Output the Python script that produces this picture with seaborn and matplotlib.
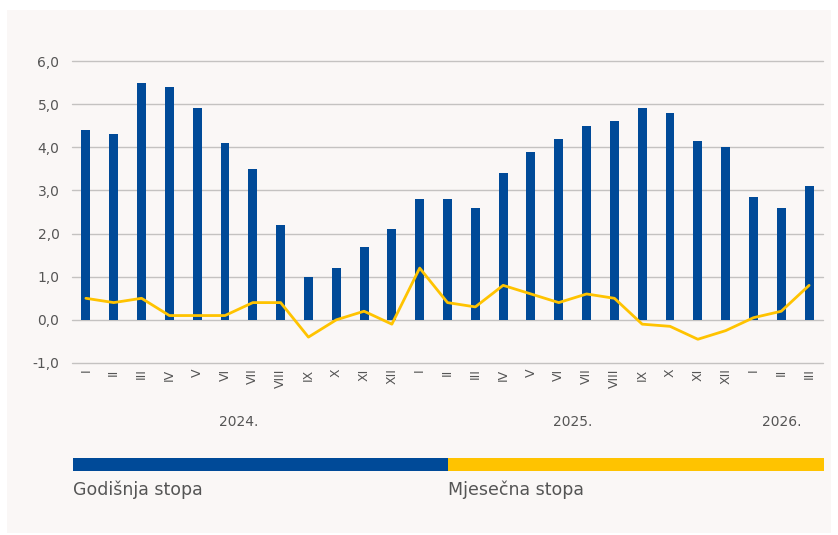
import numpy as np
import pandas as pd
import matplotlib
matplotlib.use("Agg")
import matplotlib.pyplot as plt
import matplotlib.transforms as mtransforms
from matplotlib.patches import Rectangle
import seaborn as sns

# ---- data ----
months = ["I", "II", "III", "IV", "V", "VI", "VII", "VIII", "IX", "X", "XI", "XII",
          "I", "II", "III", "IV", "V", "VI", "VII", "VIII", "IX", "X", "XI", "XII",
          "I", "II", "III"]
years = ["2024."] * 12 + ["2025."] * 12 + ["2026."] * 3
annual_rate = [4.4, 4.3, 5.5, 5.4, 4.9, 4.1, 3.5, 2.2, 1.0, 1.2, 1.7, 2.1,
               2.8, 2.8, 2.6, 3.4, 3.9, 4.2, 4.5, 4.6, 4.9, 4.8, 4.15, 4.0,
               2.85, 2.6, 3.1]
monthly_rate = [0.5, 0.4, 0.5, 0.1, 0.1, 0.1, 0.4, 0.4, -0.4, 0.0, 0.2, -0.1,
                1.2, 0.4, 0.3, 0.8, 0.6, 0.4, 0.6, 0.5, -0.1, -0.15, -0.45, -0.25,
                0.05, 0.2, 0.8]
y_ticks = [-1, 0, 1, 2, 3, 4, 5, 6]
legend_labels = ["Godišnja stopa", "Mjesečna stopa"]

BLUE = "#004A98"
YELLOW = "#FFC300"
PANEL = "#FAF7F6"
TXT = "#555555"
GRID = "#C4C2C1"

df = pd.DataFrame({"pos": np.arange(len(months)), "month": months, "year": years,
                   "annual": annual_rate, "monthly": monthly_rate})

sns.set_theme(style="white")
plt.rcParams["font.family"] = ["DejaVu Sans"]

fig = plt.figure(figsize=(8.38, 5.35), dpi=100)
fig.patch.set_facecolor("white")
fig.add_artist(Rectangle((7 / 838, 1 - 533 / 535), (831 - 7) / 838, (533 - 10) / 535,
                         transform=fig.transFigure, facecolor=PANEL, edgecolor="none", zorder=0))

ax = fig.add_axes([72 / 838, 1 - 363 / 535, (823 - 72) / 838, (363 - 61) / 535])
ax.set_facecolor("none")

sns.barplot(data=df, x="pos", y="annual", native_scale=True, width=0.32,
            color=BLUE, saturation=1, linewidth=0, ax=ax, zorder=3)
sns.lineplot(data=df, x="pos", y="monthly", color=YELLOW, linewidth=2.0, ax=ax, zorder=4)

ax.set_xlim(-0.5, len(months) - 0.5)
ax.set_ylim(-1, 6)
ax.set_yticks(y_ticks)
ax.set_yticklabels([f"{v:.1f}".replace(".", ",") for v in y_ticks], color=TXT, fontsize=10)
ax.set_xticks(df["pos"])
ax.set_xticklabels(months, rotation=90, color=TXT, fontsize=9)
ax.tick_params(axis="y", length=0, pad=9)
ax.tick_params(axis="x", length=0, pad=4)
ax.grid(axis="y", color=GRID, linewidth=1.0, zorder=1)
ax.set_axisbelow(True)
for gl in ax.yaxis.get_gridlines():
    gl.set_clip_on(False)
for s in ax.spines.values():
    s.set_visible(False)
ax.set_xlabel("")
ax.set_ylabel("")

# year group labels
trans = mtransforms.blended_transform_factory(ax.transData, fig.transFigure)
for yr, grp in df.groupby("year", sort=False):
    ax.text(grp["pos"].mean(), 1 - 422 / 535, yr, transform=trans, ha="center",
            va="center", color=TXT, fontsize=10)

# legend as colour strip
lx0, lmid, lx1 = 73 / 838, 448 / 838, 824 / 838
ly0, lh = 1 - 471 / 535, 13 / 535
fig.add_artist(Rectangle((lx0, ly0), lmid - lx0, lh, transform=fig.transFigure,
                         facecolor=BLUE, edgecolor="none"))
fig.add_artist(Rectangle((lmid, ly0), lx1 - lmid, lh, transform=fig.transFigure,
                         facecolor=YELLOW, edgecolor="none"))
for xx, lab in zip([lx0, lmid], legend_labels):
    fig.text(xx, 1 - 490 / 535, lab, ha="left", va="center", color=TXT, fontsize=12.5)

fig.savefig("out.png", dpi=100)
